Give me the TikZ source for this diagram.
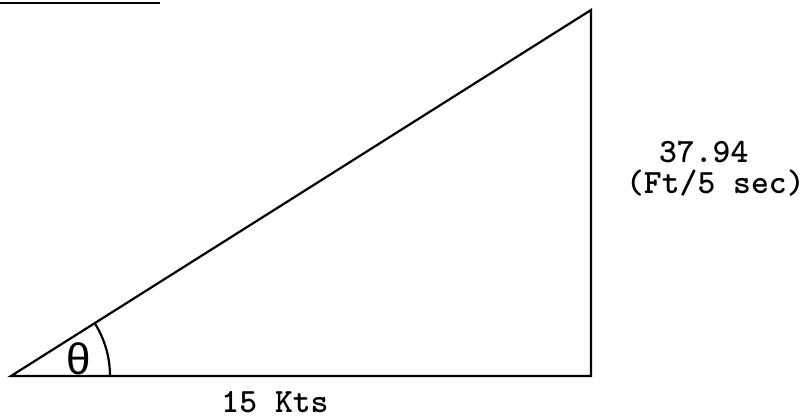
\documentclass[tikz,border=0pt]{standalone}
\usepackage{fontspec}
\newfontfamily\greekmono{Liberation Mono}
\begin{document}
\begin{tikzpicture}[x=0.5pt,y=0.5pt,line width=1.1pt,every node/.style={font=\ttfamily\bfseries\fontsize{17}{19}\selectfont,inner sep=0pt}]
\useasboundingbox (0,0) rectangle (806,418);
\draw (0,415) -- (160,415);
\coordinate (A) at (11,42); \coordinate (B) at (591,42); \coordinate (C) at (591,408);
\draw (A) -- (B) -- (C) -- cycle;
\draw (110,42) arc[start angle=0,end angle=32.3,radius=99];
\node[font=\greekmono\fontsize{22}{24}\selectfont] (theta) at (79,59) {θ};
\node[anchor=west] (speed) at (658,266) {37.94};
\node[anchor=west] (unit) at (625,235) {(Ft/5 sec)};
\node (base) at (275,16) {15 Kts};
\end{tikzpicture}
\end{document}
